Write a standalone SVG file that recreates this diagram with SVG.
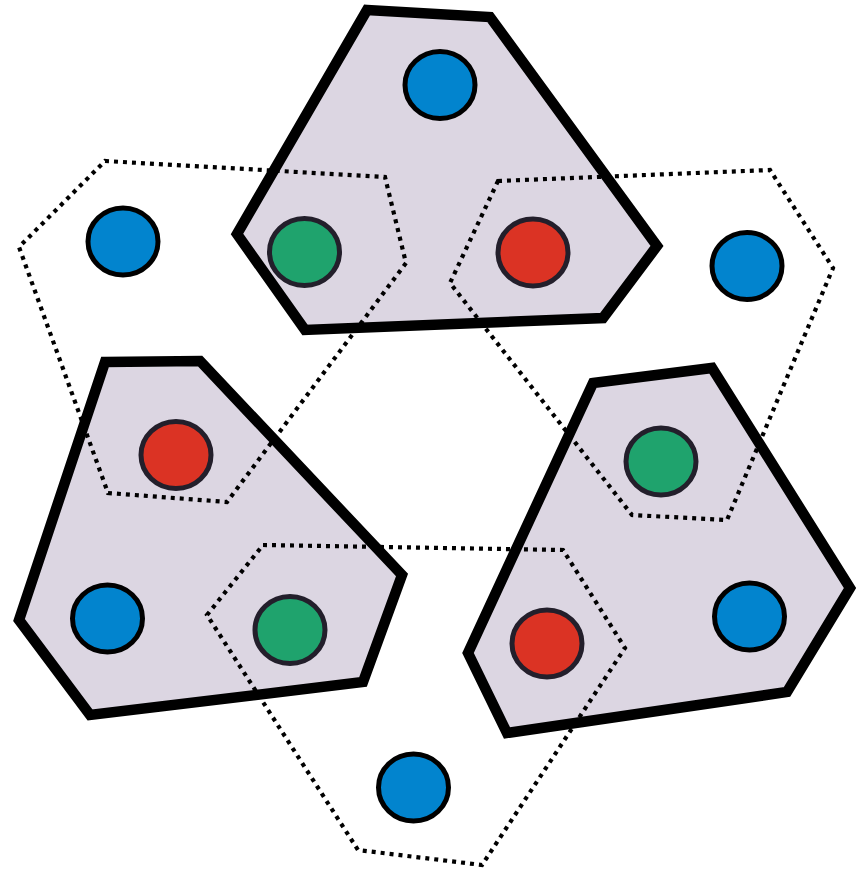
<svg xmlns="http://www.w3.org/2000/svg" width="857" height="872" viewBox="0 0 857 872">
<style>
.cluster{fill:#dcd6e2;stroke:#000;stroke-width:10.5;stroke-linejoin:miter}
.dot{fill:none;stroke:#000;stroke-width:4.2;stroke-dasharray:4 5}
.n{stroke-width:5}
.b{fill:#0284ce;stroke:#000}
.g{fill:#1fa36d;stroke:#231f2b}
.r{fill:#db3324;stroke:#231f2b}
</style>
<rect width="857" height="872" fill="#fff"/>
<g id="clusters">
<polygon id="cluster-top" class="cluster" points="367,10 490,17 657,246 603,318 305,330 237,234"/>
<polygon id="cluster-left" class="cluster" points="105,362 200,361 402,575 363,682 90,715 19,620"/>
<polygon id="cluster-right" class="cluster" points="593,383 712,368 850,588 787,692 507,733 468,653"/>
</g>
<g id="connectors">
<polygon id="hex-left" class="dot" points="105,161 385,177 406,263 227,502 108,493 19,247"/>
<polygon id="hex-right" class="dot" points="498,181 770,170 833,268 727,520 632,515 450,283"/>
<polygon id="hex-bottom" class="dot" points="263,545 563,550 625,648 482,865 358,850 207,615"/>
</g>
<g id="node-top-blue"><ellipse class="n b" cx="440" cy="85" rx="35" ry="33.5"/></g>
<g id="node-top-green"><ellipse class="n g" cx="304.5" cy="252" rx="35" ry="33.5"/></g>
<g id="node-top-red"><ellipse class="n r" cx="533" cy="252.5" rx="35" ry="33.5"/></g>
<g id="node-left-blue"><ellipse class="n b" cx="123" cy="241.5" rx="35" ry="33.5"/></g>
<g id="node-right-blue"><ellipse class="n b" cx="747" cy="266" rx="35" ry="33.5"/></g>
<g id="node-left-red"><ellipse class="n r" cx="176" cy="455" rx="35" ry="33.5"/></g>
<g id="node-left-blue2"><ellipse class="n b" cx="107.5" cy="618.5" rx="35" ry="33.5"/></g>
<g id="node-left-green"><ellipse class="n g" cx="290" cy="630" rx="35" ry="33.5"/></g>
<g id="node-right-green"><ellipse class="n g" cx="661" cy="461.5" rx="35" ry="33.5"/></g>
<g id="node-right-red"><ellipse class="n r" cx="547" cy="643.5" rx="35" ry="33.5"/></g>
<g id="node-right-blue2"><ellipse class="n b" cx="749.5" cy="616.5" rx="35" ry="33.5"/></g>
<g id="node-bottom-blue"><ellipse class="n b" cx="413.5" cy="787.5" rx="35" ry="33.5"/></g>
</svg>
